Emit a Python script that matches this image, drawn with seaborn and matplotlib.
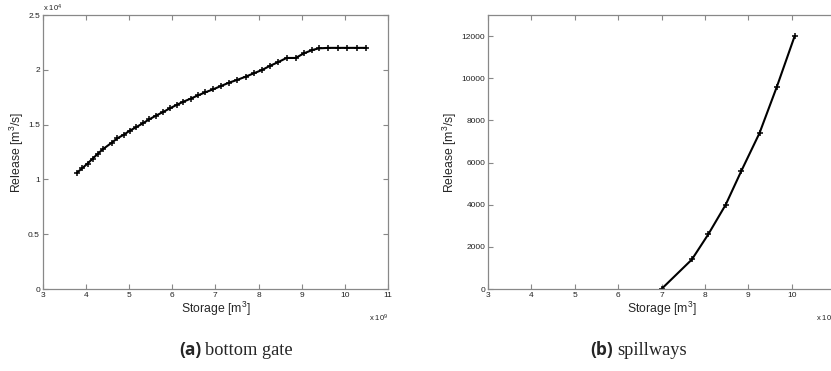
import matplotlib
matplotlib.use("Agg")
import matplotlib.pyplot as plt
import seaborn as sns
import numpy as np
import pandas as pd
from matplotlib.ticker import FuncFormatter, MultipleLocator

# ---- data ----
gate_storage_e9 = [3.79, 3.91, 4.04, 4.16, 4.28, 4.40, 4.60, 4.73, 4.88, 5.02, 5.16,
                   5.32, 5.47, 5.62, 5.79, 5.95, 6.10, 6.26, 6.43, 6.60, 6.77, 6.95,
                   7.13, 7.32, 7.50, 7.70, 7.89, 8.08, 8.26, 8.46, 8.65, 8.86, 9.05,
                   9.25, 9.40, 9.62, 9.84, 10.06, 10.28, 10.50]
gate_release = [10600, 11000, 11450, 11900, 12350, 12770, 13350, 13750, 14080, 14450,
                14750, 15120, 15480, 15810, 16150, 16490, 16790, 17090, 17370, 17670,
                17950, 18220, 18520, 18830, 19070, 19370, 19680, 19980, 20350, 20710,
                21080, 21080, 21500, 21810, 21960, 22000, 22000, 22000, 22000, 22000]

spill_storage_e9 = [7.00, 7.70, 8.08, 8.48, 8.84, 9.26, 9.66, 10.07]
spill_release = [0, 1400, 2600, 4000, 5600, 7400, 9600, 12000]

x_ticks = [3, 4, 5, 6, 7, 8, 9, 10, 11]
captions = [("(a)", "bottom gate"), ("(b)", "spillways")]

# ---- style ----
sns.set_theme(style="white")
plt.rcParams['font.family'] = ['Liberation Sans', 'DejaVu Sans']
plt.rcParams['mathtext.fontset'] = 'custom'
plt.rcParams['mathtext.rm'] = 'Liberation Sans'
plt.rcParams['mathtext.it'] = 'Liberation Sans'

W, H = 831, 371
fig = plt.figure(figsize=(W / 100, H / 100), dpi=100)
ax1 = fig.add_axes([42.7 / W, 82 / H, (388 - 42.7) / W, 274 / H])
ax2 = fig.add_axes([488 / W, 82 / H, (835 - 488) / W, 274 / H])

df1 = pd.DataFrame({"Storage": np.array(gate_storage_e9) * 1e9, "Release": gate_release})
df2 = pd.DataFrame({"Storage": np.array(spill_storage_e9) * 1e9, "Release": spill_release})

for ax, df in ((ax1, df1), (ax2, df2)):
    sns.lineplot(data=df, x="Storage", y="Release", ax=ax, color="black", lw=1.5,
                 marker="+", markersize=5, markeredgewidth=1.1, markeredgecolor="black")

grey = "#888888"
for ax, ticks in ((ax1, x_ticks), (ax2, x_ticks[:-1])):
    ax.set_xlim(3e9, 11e9)
    ax.set_xticks([t * 1e9 for t in ticks])
    ax.xaxis.set_major_formatter(FuncFormatter(lambda v, p: f"{v/1e9:g}"))
    for s in ax.spines.values():
        s.set_visible(True)
        s.set_color(grey)
        s.set_linewidth(0.9)
    ax.tick_params(axis="both", direction="in", length=3.5, width=0.8, color=grey,
                   labelsize=6, labelcolor="#222222", top=True, right=True,
                   bottom=True, left=True, pad=2)
    ax.set_xlabel("Storage [m$^3$]", fontsize=8.8, labelpad=1)
    ax.set_ylabel("Release [m$^3$/s]", fontsize=8.8, labelpad=1.5)
    ax.grid(False)
    ax.text(1.0, -0.085, "x 10$^9$", transform=ax.transAxes, ha="right", va="top",
            fontsize=5.5, color="#222222")

ax2.tick_params(axis="y", right=False)

ax1.set_ylim(0, 25000)
ax1.yaxis.set_major_locator(MultipleLocator(5000))
ax1.yaxis.set_major_formatter(FuncFormatter(lambda v, p: f"{v/1e4:g}"))
ax1.text(0.0, 1.005, "x 10$^4$", transform=ax1.transAxes, ha="left", va="bottom",
         fontsize=5.5, color="#222222")

ax2.set_ylim(0, 13000)
ax2.yaxis.set_major_locator(MultipleLocator(2000))
ax2.yaxis.set_major_formatter(FuncFormatter(lambda v, p: f"{v:.0f}"))

# captions
cap_pos = [(201 / W, 355 / H), (613 / W, 355 / H)]
for (lab, txt), (cx, cy) in zip(captions, cap_pos):
    fig.text(cx, 1 - cy, lab, ha="right", va="baseline", fontsize=12.5,
             fontweight="bold", family=["Open Sans", "DejaVu Sans"])
    fig.text(cx + 4 / W, 1 - cy, txt, ha="left", va="baseline", fontsize=13.2,
             family=["Liberation Serif", "DejaVu Serif"])

fig.savefig("out.png", dpi=100)
